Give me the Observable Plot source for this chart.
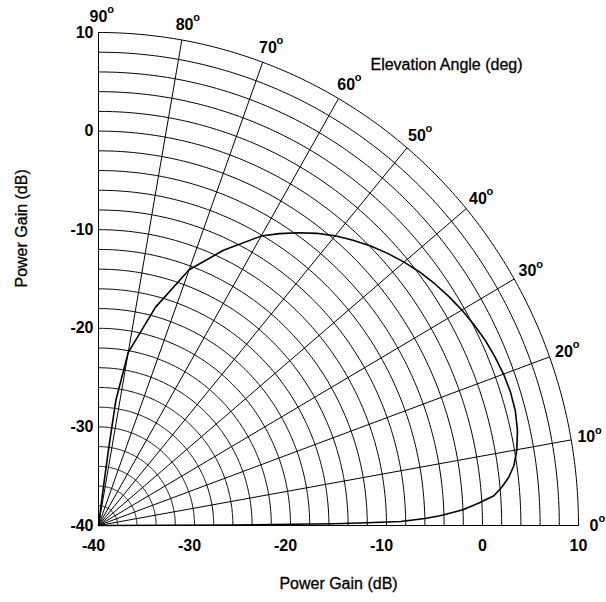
<!DOCTYPE html>
<html>
<head>
<meta charset="utf-8">
<script src="https://cdn.jsdelivr.net/npm/d3@7"></script>
<script src="https://cdn.jsdelivr.net/npm/@observablehq/plot@0.6"></script>
<style>
  html, body { margin: 0; padding: 0; background: #fff; }
  #chart svg { display: block; }
</style>
</head>
<body>
<div id="chart"></div>
<script>
// Tick values (dB) for both axes
const powerTicks = [-40, -30, -20, -10, 0, 10];
// Elevation angle spokes (deg)
const angleTicks = [0, 10, 20, 30, 40, 50, 60, 70, 80, 90];
// Concentric gain circles (dB), every 2 dB
const ringGains = [-38, -36, -34, -32, -30, -28, -26, -24, -22, -20, -18, -16, -14, -12,
                   -10, -8, -6, -4, -2, 0, 2, 4, 6, 8, 10];
// Pattern: elevation angle (deg) and power gain (dB)
const elevAngles = [0, 0.2, 0.4, 0.56, 0.74, 1.2, 1.6, 2.4, 3.3, 4.2, 5.3, 6.5, 8, 10, 12.5, 15, 17.5,
                    20, 22.5, 25, 27.5, 30, 32.5, 35, 37.5, 40, 42.5, 45, 47.5, 50, 52.5, 55, 57.5,
                    60, 65, 70, 75, 80, 81.9, 82.3, 82.6, 83, 90];
const gainDb =     [-40, -26, -15.5, -12, -8.5, -6.0, -4.4, -2.0, -0.3, 1.3, 2.2, 3.0, 3.7, 4.25, 4.7, 4.95, 5.0,
                    4.9, 4.7, 4.45, 4.1, 3.7, 3.25, 2.75, 2.2, 1.55, 0.85, 0.1, -0.75, -1.65, -2.65, -3.75, -4.9,
                    -6.1, -9.2, -12.4, -17.1, -22.2, -27.2, -32.3, -36.5, -40, -40];

const floor = -40;          // origin of the polar plot (dB)
const labelR = 51.6;        // radius (dB above floor) for the angle labels
const rad = (d) => d * Math.PI / 180;
const px = (g, a) => floor + (g - floor) * Math.cos(rad(a));
const py = (g, a) => floor + (g - floor) * Math.sin(rad(a));

const rings = [];
for (const g of ringGains) for (let a = 0; a <= 90; a += 0.5) rings.push({g, x: px(g, a), y: py(g, a)});
const spokes = angleTicks.map(a => ({a, x2: px(10, a), y2: py(10, a)}));
const pattern = elevAngles.map((a, i) => ({a, g: gainDb[i], x: px(gainDb[i], a), y: py(gainDb[i], a)}));
const angleLabels = angleTicks.map(a => ({a, x: floor + labelR * Math.cos(rad(a)), y: floor + labelR * Math.sin(rad(a))}));

const font = "'Liberation Sans', Arial, Helvetica, sans-serif";
const bold = {fontSize: 16, fontWeight: "bold", fill: "#000"};
const title = {fontSize: 16, fill: "#000", stroke: "#000", strokeWidth: 0.3};

const chart = Plot.plot({
  width: 606,
  height: 602,
  marginLeft: 98,
  marginRight: 28,
  marginTop: 32,
  marginBottom: 77,
  x: {domain: [-40, 10], axis: null},
  y: {domain: [-40, 10], axis: null},
  style: {fontFamily: font, background: "#fff", color: "#000"},
  marks: [
    Plot.line(rings, {x: "x", y: "y", z: "g", stroke: "#000", strokeWidth: 1}),
    Plot.link(spokes, {x1: () => floor, y1: () => floor, x2: "x2", y2: "y2", stroke: "#000", strokeWidth: 1}),
    Plot.line(pattern, {x: "x", y: "y", stroke: "#000", strokeWidth: 1.6, curve: "linear"}),
    // y tick labels
    Plot.text(powerTicks, {x: () => floor, y: d => d, text: d => String(d), textAnchor: "end", dx: -5, ...bold}),
    // x tick labels (negative ones shifted so the digits sit on the tick)
    Plot.text(powerTicks.filter(d => d < 0), {x: d => d, y: () => floor, text: d => String(d), dy: 20, dx: -5, ...bold}),
    Plot.text(powerTicks.filter(d => d >= 0), {x: d => d, y: () => floor, text: d => String(d), dy: 20, dx: 0, ...bold}),
    // angle labels with superscript "o"
    Plot.text(angleLabels, {x: "x", y: "y", text: d => String(d.a), ...bold}),
    Plot.text(angleLabels.filter(d => d.a >= 10), {x: "x", y: "y", text: () => "o", dx: 12, dy: -7, ...bold, fontSize: 11}),
    Plot.text(angleLabels.filter(d => d.a < 10), {x: "x", y: "y", text: () => "o", dx: 8, dy: -7, ...bold, fontSize: 11}),
    // titles
    Plot.text(["Elevation Angle (deg)"], {frameAnchor: "top-right", textAnchor: "middle", dx: -132, dy: 26, ...title}),
    Plot.text(["Power Gain (dB)"], {frameAnchor: "bottom", dy: 63, ...title}),
    Plot.text(["Power Gain (dB)"], {frameAnchor: "left", rotate: -90, dx: -77, dy: 8.5, ...title})
  ]
});
document.getElementById("chart").appendChild(chart);
</script>
</body>
</html>
